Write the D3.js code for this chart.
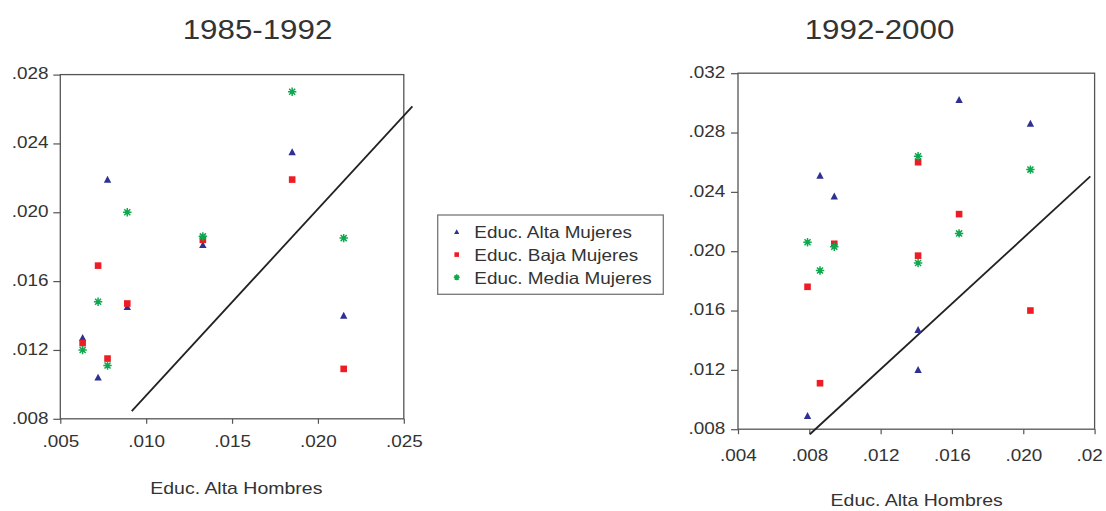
<!DOCTYPE html>
<html>
<head>
<meta charset="utf-8">
<script src="https://cdnjs.cloudflare.com/ajax/libs/d3/7.8.5/d3.min.js"></script>
<style>
  html, body { margin: 0; padding: 0; background: #fff; }
  svg { display: block; }
  text { font-family: "Liberation Sans", Arial, sans-serif; fill: #333; }
</style>
</head>
<body>
<svg id="chart" width="1106" height="511"></svg>
<script>
// ---------------- DATA ----------------
const seriesNames = ["Educ. Alta Mujeres", "Educ. Baja Mujeres", "Educ. Media Mujeres"];
const xAxisTitle = "Educ. Alta Hombres";
const panelTitles = ["1985-1992", "1992-2000"];

// Panel 1985-1992
const hombres8592 = [0.0063, 0.0072, 0.00775, 0.0089, 0.0133, 0.0185, 0.0215];
const alta8592    = [0.0127, 0.0104, 0.0219, 0.0145, 0.0181, 0.0235, 0.0140];
const baja8592    = [0.0124, 0.0169, 0.0115, 0.0147, 0.0184, 0.0219, 0.0109];
const media8592   = [0.0120, 0.0148, 0.0111, 0.0200, 0.0186, 0.0270, 0.0185];
const lineX8592   = [0.00916, 0.0255];
const lineY8592   = [0.00845, 0.02615];
const xTicks8592  = [0.005, 0.010, 0.015, 0.020, 0.025];
const xLabels8592 = [".005", ".010", ".015", ".020", ".025"];
const yTicks8592  = [0.008, 0.012, 0.016, 0.020, 0.024, 0.028];
const yLabels8592 = [".008", ".012", ".016", ".020", ".024", ".028"];

// Panel 1992-2000
const hombres9200 = [0.0079, 0.0086, 0.0094, 0.0141, 0.0141, 0.0164, 0.0204];
const alta9200    = [0.0089, 0.0251, 0.0237, 0.0147, 0.0120, 0.0302, 0.0286];
const baja9200    = [0.0176, 0.0111, 0.0205, 0.0260, 0.0197, 0.0225, 0.0160];
const media9200   = [0.0206, 0.0187, 0.0203, 0.0264, 0.0192, 0.0212, 0.0255];
const lineX9200   = [0.00803, 0.02376];
const lineY9200   = [0.00766, 0.02504];
const xTicks9200  = [0.004, 0.008, 0.012, 0.016, 0.020, 0.024];
const xLabels9200 = [".004", ".008", ".012", ".016", ".020", ".02"]; // last label is cut in the original
const yTicks9200  = [0.008, 0.012, 0.016, 0.020, 0.024, 0.028, 0.032];
const yLabels9200 = [".008", ".012", ".016", ".020", ".024", ".028", ".032"];

// ---------------- STYLE ----------------
const SX = 1.16;              // horizontal stretch of the reference's lettering
const colors = ["#2e3192", "#ee1c25", "#0fa84f"];

const svg = d3.select("#chart");

function marker(g, type, color, s) {
  if (type === 0) {
    g.append("path").attr("d", `M0,${-3.8*s}L${3.7*s},${3.1*s}L${-3.7*s},${3.1*s}Z`).attr("fill", color);
  } else if (type === 1) {
    g.append("rect").attr("x", -3.3*s).attr("y", -3.3*s).attr("width", 6.6*s).attr("height", 6.6*s).attr("fill", color);
  } else {
    const r = 4.2 * s, d = r * 0.72;
    const p = `M0,${-r}V${r}M${-r},0H${r}M${-d},${-d}L${d},${d}M${-d},${d}L${d},${-d}`;
    g.append("path").attr("d", p).attr("stroke", color).attr("stroke-width", 1.5).attr("fill", "none");
    g.append("circle").attr("r", 1.9*s).attr("fill", color);
  }
}

function panel(cfg) {
  const x = d3.scaleLinear().domain(cfg.xDomain).range(cfg.xRange);
  const y = d3.scaleLinear().domain(cfg.yDomain).range(cfg.yRange);
  const g = svg.append("g");

  // frame
  g.append("rect")
    .attr("x", cfg.xRange[0]).attr("y", cfg.yRange[1])
    .attr("width", cfg.xRange[1] - cfg.xRange[0])
    .attr("height", cfg.yRange[0] - cfg.yRange[1])
    .attr("fill", "none").attr("stroke", "#555").attr("stroke-width", 1.3);

  // x axis
  const xa = g.append("g").attr("transform", `translate(0,${cfg.yRange[0]})`)
    .call(d3.axisBottom(x).tickValues(cfg.xTicks)
      .tickFormat((d, i) => cfg.xLabels[i]).tickSizeInner(5).tickSizeOuter(0));
  xa.select(".domain").remove();
  xa.selectAll(".tick line").attr("stroke", "#555").attr("stroke-width", 1.2);
  xa.selectAll(".tick text")
    .attr("y", cfg.xLabelBase).attr("dy", 0)
    .attr("transform", `scale(${SX},1)`)
    .attr("font-size", 16.3).style("fill", "#333");
  if (cfg.lastLabelStart !== undefined) {
    // the last label of this axis is cut at the picture edge in the original:
    // keep its visible part, starting where the original starts it
    xa.selectAll(".tick text").filter((d, i) => i === cfg.xTicks.length - 1)
      .attr("text-anchor", "start")
      .attr("x", (cfg.lastLabelStart - x(cfg.xTicks[cfg.xTicks.length - 1])) / SX);
  }

  // y axis
  const ya = g.append("g").attr("transform", `translate(${cfg.xRange[0]},0)`)
    .call(d3.axisLeft(y).tickValues(cfg.yTicks)
      .tickFormat((d, i) => cfg.yLabels[i]).tickSizeInner(7).tickSizeOuter(0));
  ya.select(".domain").remove();
  ya.selectAll(".tick line").attr("stroke", "#555").attr("stroke-width", 1.2);
  ya.selectAll(".tick text")
    .attr("x", -cfg.yLabelGap / SX).attr("dy", "0.26em")
    .attr("transform", `scale(${SX},1)`)
    .attr("font-size", 16.3).style("fill", "#333");

  // reference line
  const lineData = cfg.lineX.map((v, i) => [v, cfg.lineY[i]]);
  g.append("path").datum(lineData)
    .attr("d", d3.line().x(d => x(d[0])).y(d => y(d[1])))
    .attr("stroke", "#222").attr("stroke-width", 1.8).attr("fill", "none");

  // points
  cfg.series.forEach((vals, si) => {
    vals.forEach((v, i) => {
      const m = g.append("g").attr("transform", `translate(${x(cfg.xVals[i])},${y(v)})`);
      marker(m, si, colors[si], 1);
    });
  });

  // title
  g.append("text").text(cfg.title)
    .attr("transform", `translate(${cfg.titleX},${cfg.titleY}) scale(${SX},1)`)
    .attr("text-anchor", "middle").attr("font-size", 27);

  // axis title
  g.append("text").text(xAxisTitle)
    .attr("transform", `translate(${cfg.axisTitleX},${cfg.axisTitleY}) scale(${SX},1)`)
    .attr("text-anchor", "middle").attr("font-size", 16.8);
}

panel({
  xDomain: [0.005, 0.025], xRange: [60.3, 403.8],
  yDomain: [0.008, 0.028], yRange: [418.8, 74.6],
  xTicks: xTicks8592, xLabels: xLabels8592, yTicks: yTicks8592, yLabels: yLabels8592,
  xLabelBase: 27.9, yLabelGap: 11.7,
  xVals: hombres8592, series: [alta8592, baja8592, media8592],
  lineX: lineX8592, lineY: lineY8592,
  title: panelTitles[0], titleX: 257.5, titleY: 39.3,
  axisTitleX: 236.3, axisTitleY: 494.3
});

panel({
  xDomain: [0.004, 0.024], xRange: [738.0, 1094.6],
  yDomain: [0.008, 0.032], yRange: [429.2, 73.2],
  xTicks: xTicks9200, xLabels: xLabels9200, yTicks: yTicks9200, yLabels: yLabels9200,
  xLabelBase: 31.8, yLabelGap: 12.7,
  xVals: hombres9200, series: [alta9200, baja9200, media9200],
  lineX: lineX9200, lineY: lineY9200,
  title: panelTitles[1], titleX: 879.5, titleY: 39.3,
  axisTitleX: 916.7, axisTitleY: 505.7,
  lastLabelStart: 1076
});

// legend
const lg = svg.append("g");
lg.append("rect").attr("x", 437.7).attr("y", 215).attr("width", 225.6).attr("height", 79.3)
  .attr("fill", "#fff").attr("stroke", "#777").attr("stroke-width", 1.3);
const legendBase = [238.3, 261.0, 283.7];
seriesNames.forEach((name, i) => {
  const m = lg.append("g").attr("transform", `translate(456.7,${legendBase[i] - 6.4})`);
  marker(m, i, colors[i], 0.7);
  lg.append("text").text(name)
    .attr("transform", `translate(474.3,${legendBase[i]}) scale(${SX},1)`)
    .attr("font-size", 16.3);
});
</script>
</body>
</html>
